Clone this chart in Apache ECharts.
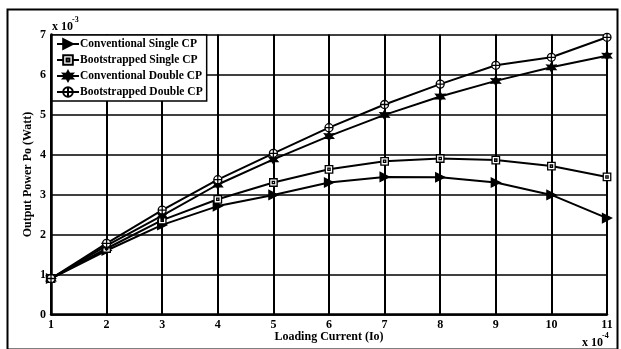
<!DOCTYPE html>
<html>
<head>
<meta charset="utf-8">
<script src="https://cdn.jsdelivr.net/npm/echarts@6/dist/echarts.min.js"></script>
<style>
  html, body { margin: 0; padding: 0; background: #fff; }
  #chart { width: 621px; height: 349px; }
</style>
</head>
<body>
<div id="chart"></div>
<script>
// Loading current (x 10^-4) on the horizontal axis
const loadingCurrent = [1, 2, 3, 4, 5, 6, 7, 8, 9, 10, 11];

// Output power (x 10^-3 W) for each charge-pump variant
const conventionalSingle = [0.90, 1.60, 2.24, 2.71, 2.99, 3.30, 3.44, 3.43, 3.30, 2.99, 2.41];
const bootstrappedSingle = [0.90, 1.65, 2.36, 2.88, 3.30, 3.63, 3.83, 3.90, 3.86, 3.71, 3.44];
const conventionalDouble = [0.90, 1.72, 2.47, 3.25, 3.88, 4.46, 4.99, 5.45, 5.84, 6.18, 6.47];
const bootstrappedDouble = [0.90, 1.78, 2.61, 3.37, 4.03, 4.67, 5.25, 5.76, 6.23, 6.43, 6.93];

const seriesNames = [
  'Conventional Single CP',
  'Bootstrapped Single CP',
  'Conventional Double CP',
  'Bootstrapped Double CP'
];

const FONT = '"Liberation Serif", "Times New Roman", serif';

// marker shapes
const triangleRight = 'path://M0 0L10 5L0 10Z';
const hexStar = 'path://M5 0L6.3 2.75L9.33 2.5L7.6 5L9.33 7.5L6.3 7.25L5 10L3.7 7.25L0.67 7.5L2.4 5L0.67 2.5L3.7 2.75Z';
const circlePlus = 'path://M5 0A5 5 0 1 1 5 10A5 5 0 1 1 5 0ZM5 0L5 10M0 5L10 5';
const squareDot = 'path://M0 0L10 0L10 10L0 10ZM3.5 3.5L6.5 3.5L6.5 6.5L3.5 6.5Z';

function pairs(values) {
  return loadingCurrent.map((x, i) => [x, values[i]]);
}

function makeSeries(name, values, symbol, size, fill) {
  return {
    name: name,
    type: 'line',
    data: pairs(values),
    symbol: symbol,
    symbolSize: size,
    showAllSymbol: true,
    lineStyle: { color: '#000', width: 2 },
    itemStyle: { color: fill, borderColor: '#000', borderWidth: 1.3 },
    emphasis: { disabled: true },
    animation: false
  };
}

const chart = echarts.init(document.getElementById('chart'), null, { renderer: 'canvas' });

chart.setOption({
  backgroundColor: '#fff',
  animation: false,
  grid: { left: 51, right: 14, top: 34.5, bottom: 34.5, containLabel: false },
  legend: {
    left: 52,
    top: 35,
    orient: 'vertical',
    backgroundColor: '#fff',
    borderColor: '#000',
    borderWidth: 1.5,
    borderRadius: 0,
    padding: [3, 4, 3, 4],
    itemGap: 4,
    itemWidth: 22,
    itemHeight: 12,
    data: seriesNames,
    textStyle: { fontFamily: FONT, fontWeight: 'bold', fontSize: 11.5, color: '#000', padding: [0, 0, 0, -4] }
  },
  xAxis: {
    type: 'value',
    min: 1,
    max: 11,
    interval: 1,
    name: 'Loading Current (Io)',
    nameLocation: 'middle',
    nameGap: 16,
    nameMoveOverlap: false,
    nameTextStyle: { fontFamily: FONT, fontWeight: 'bold', fontSize: 12, color: '#000' },
    axisLine: { lineStyle: { color: '#000', width: 2.5 } },
    axisTick: { show: false },
    axisLabel: { fontFamily: FONT, fontWeight: 'bold', fontSize: 12, color: '#000', margin: 4 },
    splitLine: { show: true, lineStyle: { color: '#000', width: 2 } }
  },
  yAxis: {
    type: 'value',
    min: 0,
    max: 7,
    interval: 1,
    name: 'Output Power Po (Watt)',
    nameLocation: 'middle',
    nameGap: 17,
    nameMoveOverlap: false,
    nameTextStyle: { fontFamily: FONT, fontWeight: 'bold', fontSize: 12, color: '#000' },
    axisLine: { show: true, lineStyle: { color: '#000', width: 2.5 } },
    axisTick: { show: false },
    axisLabel: { fontFamily: FONT, fontWeight: 'bold', fontSize: 12, color: '#000', margin: 5 },
    splitLine: { show: true, lineStyle: { color: '#000', width: 1.5 } }
  },
  graphic: [
    {
      type: 'rect',
      left: 5,
      top: 7,
      shape: { width: 610, height: 340 },
      style: { fill: 'none', stroke: '#000', lineWidth: 2 },
      silent: true,
      z: -1
    },
    // axis multiplier for the power scale
    { type: 'text', left: 52, top: 21, style: { text: 'x 10', font: 'bold 12px ' + FONT, fill: '#000' } },
    { type: 'text', left: 72, top: 16, style: { text: '-3', font: 'bold 8px ' + FONT, fill: '#000' } },
    // axis multiplier for the current scale
    { type: 'text', left: 582, top: 337, style: { text: 'x 10', font: 'bold 12px ' + FONT, fill: '#000' } },
    { type: 'text', left: 602, top: 332, style: { text: '-4', font: 'bold 8px ' + FONT, fill: '#000' } }
  ],
  series: [
    makeSeries(seriesNames[0], conventionalSingle, triangleRight, 9, '#000'),
    makeSeries(seriesNames[1], bootstrappedSingle, squareDot, 7.5, '#fff'),
    makeSeries(seriesNames[2], conventionalDouble, hexStar, 9, '#000'),
    makeSeries(seriesNames[3], bootstrappedDouble, circlePlus, 8, '#fff')
  ]
});
</script>
</body>
</html>
